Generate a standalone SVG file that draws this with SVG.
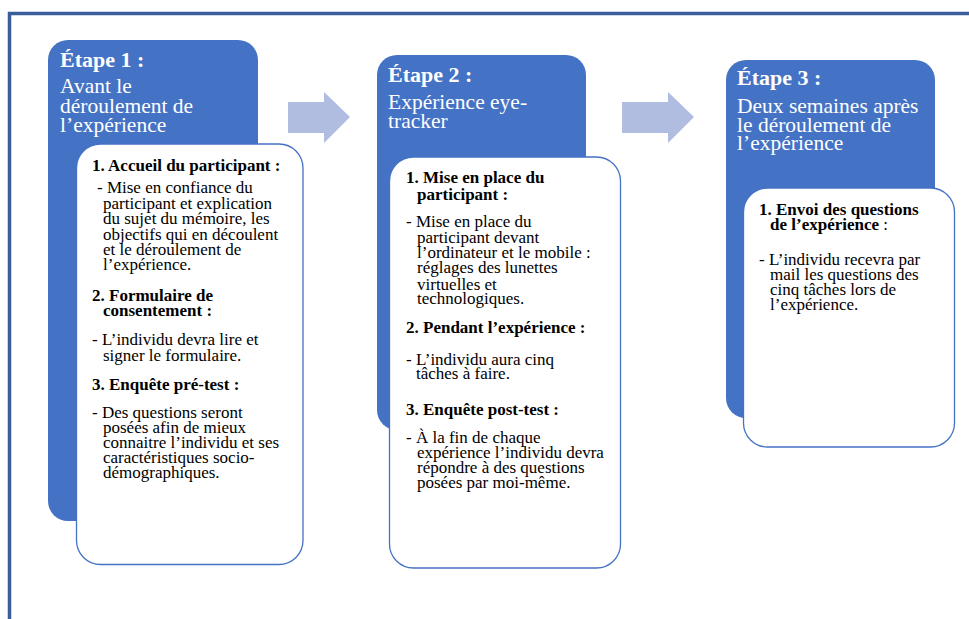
<svg xmlns="http://www.w3.org/2000/svg" width="969" height="619" viewBox="0 0 969 619">
<style>
text{font-family:"Liberation Serif","Times New Roman",serif;}
.title{font-size:22px;font-weight:bold;fill:#ffffff;}
.sub{font-size:21.5px;fill:#ffffff;}
.h{font-size:17px;font-weight:bold;fill:#000000;}
.t{font-size:17px;fill:#000000;}
.blue{fill:#4472c4;}
.card{fill:#ffffff;stroke:#4472c4;stroke-width:1.3;}
.arrow{fill:#b0bde0;}
.frame{fill:none;stroke:#3b5d9c;stroke-width:3.5;}
</style>
<rect width="969" height="619" fill="#ffffff"/>
<path class="frame" d="M9.5,619 V13.5 H969"/>

<g id="connectors">
<polygon class="arrow" points="288,102 324,102 324,92 350,117 324,143 324,133 288,133"/>
<polygon class="arrow" points="622,102 668,102 668,92 694,117 668,143 668,133 622,133"/>
</g>

<g id="step1">
<rect class="blue" x="48" y="40" width="210" height="481" rx="20"/>
<text class="title" x="60" y="67">Étape 1 :</text>
<text class="sub" x="60" y="93">Avant le</text>
<text class="sub" x="60" y="113">déroulement de</text>
<text class="sub" x="60" y="132">l’expérience</text>
<rect class="card" x="76.5" y="144" width="226.5" height="420.5" rx="24"/>
<text class="h" x="92" y="171">1. Accueil du participant :</text>
<text class="t" x="97" y="193">- Mise en confiance du</text>
<text class="t" x="103" y="209">participant et explication</text>
<text class="t" x="103" y="224">du sujet du mémoire, les</text>
<text class="t" x="103" y="240">objectifs qui en découlent</text>
<text class="t" x="103" y="255">et le déroulement de</text>
<text class="t" x="103" y="270">l’expérience.</text>
<text class="h" x="92" y="301">2. Formulaire de</text>
<text class="h" x="103" y="316">consentement :</text>
<text class="t" x="92" y="345">- L’individu devra lire et</text>
<text class="t" x="103" y="361">signer le formulaire.</text>
<text class="h" x="92" y="390">3. Enquête pré-test :</text>
<text class="t" x="92" y="418">- Des questions seront</text>
<text class="t" x="103" y="433">posées afin de mieux</text>
<text class="t" x="103" y="448">connaitre l’individu et ses</text>
<text class="t" x="103" y="463">caractéristiques socio-</text>
<text class="t" x="103" y="478">démographiques.</text>
</g>

<g id="step2">
<rect class="blue" x="377" y="55" width="209" height="375" rx="20"/>
<text class="title" x="388" y="82">Étape 2 :</text>
<text class="sub" x="388" y="109">Expérience eye-</text>
<text class="sub" x="388" y="128">tracker</text>
<rect class="card" x="389.5" y="157" width="231" height="411" rx="24"/>
<text class="h" x="406" y="183">1. Mise en place du</text>
<text class="h" x="417" y="200">participant :</text>
<text class="t" x="406" y="227">- Mise en place du</text>
<text class="t" x="417" y="243">participant devant</text>
<text class="t" x="417" y="258">l’ordinateur et le mobile :</text>
<text class="t" x="417" y="273">réglages des lunettes</text>
<text class="t" x="417" y="290">virtuelles et</text>
<text class="t" x="417" y="304">technologiques.</text>
<text class="h" x="406" y="333">2. Pendant l’expérience :</text>
<text class="t" x="406" y="365">-  L’individu aura cinq</text>
<text class="t" x="416" y="379">tâches à faire.</text>
<text class="h" x="406" y="415">3. Enquête post-test :</text>
<text class="t" x="406" y="443">- À la fin de chaque</text>
<text class="t" x="417" y="458">expérience l’individu devra</text>
<text class="t" x="417" y="473">répondre à des questions</text>
<text class="t" x="417" y="488">posées par moi-même.</text>
</g>

<g id="step3">
<rect class="blue" x="726" y="60" width="209" height="358" rx="20"/>
<text class="title" x="737" y="85">Étape 3 :</text>
<text class="sub" x="737" y="113">Deux semaines après</text>
<text class="sub" x="737" y="132">le déroulement de</text>
<text class="sub" x="737" y="150">l’expérience</text>
<rect class="card" x="743.5" y="188" width="211" height="259" rx="24"/>
<text class="h" x="759" y="215">1. Envoi des questions</text>
<text class="h" x="770" y="230">de l’expérience <tspan font-weight="normal">:</tspan></text>
<text class="t" x="759" y="265">- L’individu recevra par</text>
<text class="t" x="770" y="280">mail les questions des</text>
<text class="t" x="770" y="295">cinq tâches lors de</text>
<text class="t" x="770" y="310">l’expérience.</text>
</g>
</svg>
